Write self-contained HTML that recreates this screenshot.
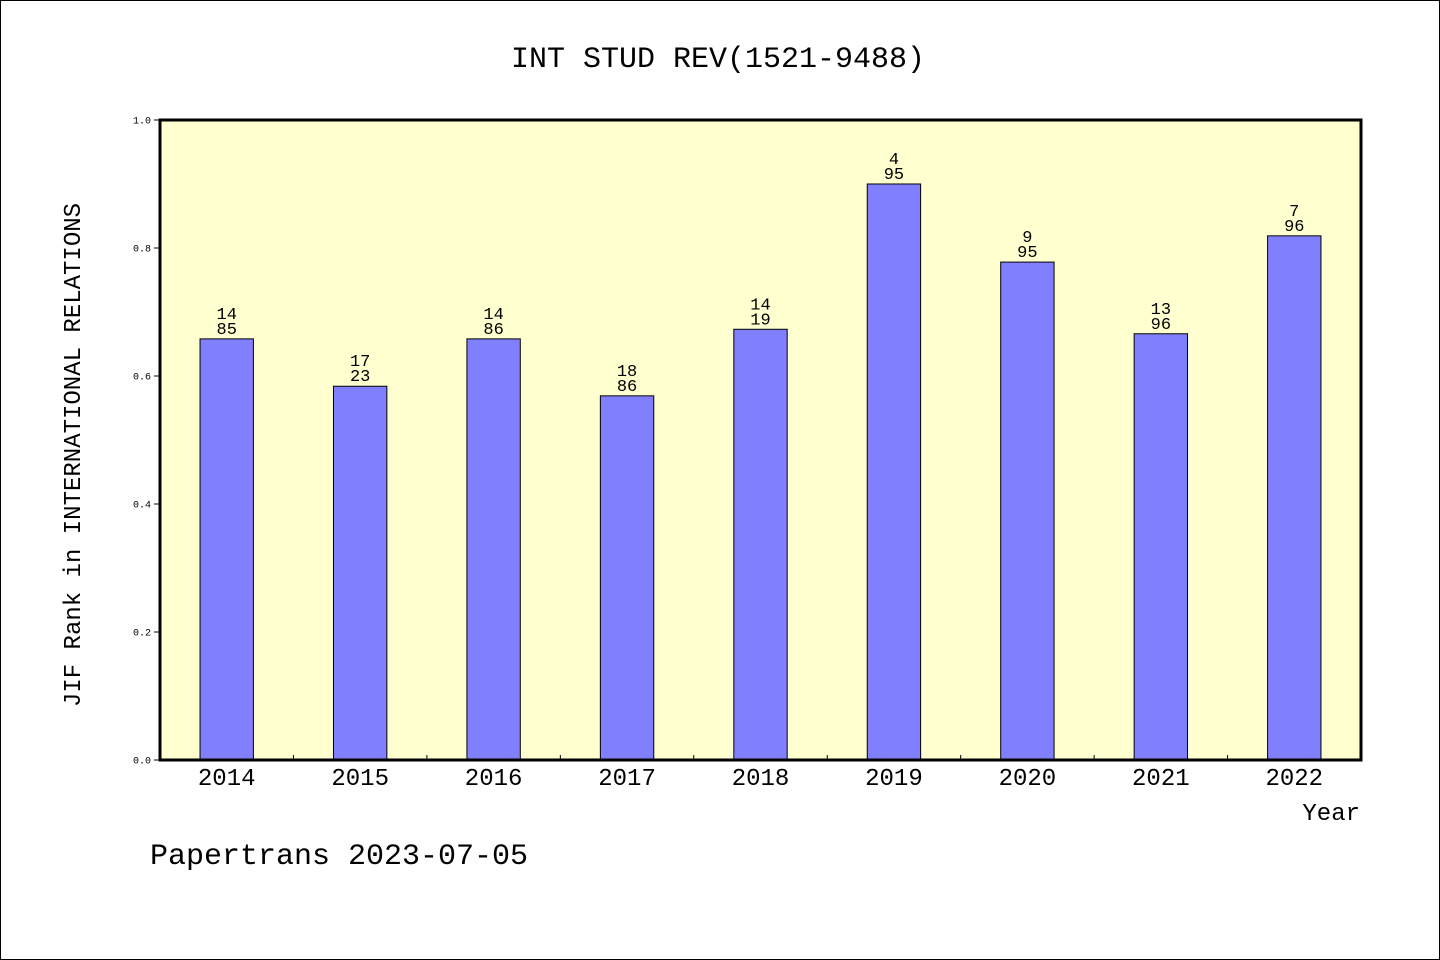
<!DOCTYPE html>
<html><head><meta charset="utf-8"><style>
html,body{margin:0;padding:0;background:#fff}
svg{display:block}
text{font-family:"WenQuanYi Zen Hei","Liberation Mono",monospace;fill:#000}
</style></head><body>
<svg width="1440" height="960" viewBox="0 0 1440 960">
<rect x="0.5" y="0.5" width="1439" height="959" fill="#fff" stroke="#000"/>
<text x="718" y="67" font-size="30" text-anchor="middle">INT STUD REV(1521-9488)</text>
<rect x="160" y="120" width="1201" height="640" fill="#ffffd0"/>
<g id="bars"></g>
<rect x="160" y="120" width="1201" height="640" fill="none" stroke="#000" stroke-width="3"/>
<g id="axes"></g>
<text x="80" y="455" font-size="24" text-anchor="middle" transform="rotate(-90 80 455)">JIF Rank in INTERNATIONAL RELATIONS</text>
<text x="1360" y="820" font-size="24" text-anchor="end">Year</text>
<text x="150" y="864" font-size="30">Papertrans 2023-07-05</text>
</svg>
<script>
const years=['2014','2015','2016','2017','2018','2019','2020','2021','2022'];
const values=[0.658,0.584,0.658,0.569,0.673,0.9,0.778,0.666,0.819];
const ranks=['14','17','14','18','14','4','9','13','7'];
const totals=['85','23','86','86','19','95','95','96','96'];
const yTicks=['0.0','0.2','0.4','0.6','0.8','1.0'];
const NS='http://www.w3.org/2000/svg';
const X0=160,W=1201,Y0=760,H=640;
const bw=W/years.length;
const xs=i=>X0+bw*(i+0.5);
const ys=v=>Y0-v*H;
function mk(tag,at,parent,txt){const e=document.createElementNS(NS,tag);for(const k in at)e.setAttribute(k,at[k]);if(txt!==undefined)e.textContent=txt;parent.appendChild(e);return e;}
const gb=document.getElementById('bars'),ga=document.getElementById('axes');
years.forEach((y,i)=>{
 const cx=xs(i),top=ys(values[i]),w=bw*0.4;
 const r=mk('rect',{x:cx-w/2,y:top,width:w,height:Y0-top,fill:'#8080ff',stroke:'#000','stroke-width':1},gb);
 
 
 const t1=mk('text',{x:cx,y:top-20,'font-size':17,'text-anchor':'middle'},gb,ranks[i]);
 
 
 const t2=mk('text',{x:cx,y:top-5,'font-size':17,'text-anchor':'middle'},gb,totals[i]);
 
 
 const tl=mk('text',{x:cx,y:785,'font-size':24,'text-anchor':'middle'},ga,y);
 
 
 if(i>0){const tk=mk('line',{x1:X0+bw*i,x2:X0+bw*i,y1:Y0,y2:Y0-5,stroke:'#000'},ga);
 
 }
});
yTicks.forEach(t=>{
 const y=ys(parseFloat(t));
 const l=mk('line',{x1:X0-6,x2:X0,y1:y,y2:y,stroke:'#000'},ga);
 
 
 const tx=mk('text',{x:151,y:y+3.5,'font-size':10,'text-anchor':'end'},ga,t);
 
 
});
</script>
</body></html>
